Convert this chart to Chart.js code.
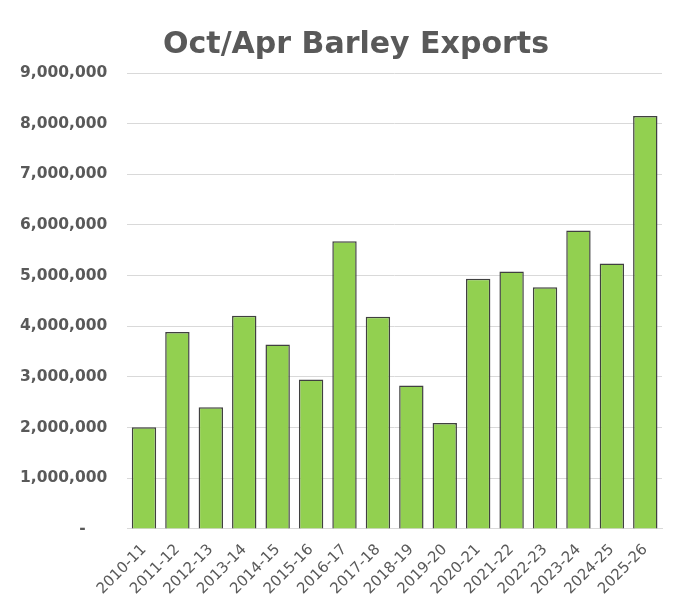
<!DOCTYPE html>
<html>
<head>
<meta charset="utf-8">
<script src="https://cdn.jsdelivr.net/npm/chart.js@4.4.1/dist/chart.umd.min.js"></script>
<style>
  html, body { margin: 0; padding: 0; background: #fff; }
  #wrap { width: 680px; height: 612px; }
</style>
</head>
<body>
<div id="wrap"><canvas id="myChart"></canvas></div>
<script>
"use strict";

const chartTitle = 'Oct/Apr Barley Exports';
const seasons = ['2010-11', '2011-12', '2012-13', '2013-14', '2014-15', '2015-16', '2016-17', '2017-18',
  '2018-19', '2019-20', '2020-21', '2021-22', '2022-23', '2023-24', '2024-25', '2025-26'];
const exportsTonnes = [2010000, 3890000, 2400000, 4210000, 3640000, 2950000, 5680000, 4190000,
  2830000, 2090000, 4940000, 5080000, 4770000, 5890000, 5240000, 8150000];
const yMax = 9000000;
const yStep = 1000000;

const textGrey = '#595959';

// title drawn by hand so it can sit a little right of canvas centre like the original
const titlePlugin = {
  id: 'sideTitle',
  afterDraw(chart) {
    const c = chart.ctx;
    c.save();
    c.font = 'bold 30px "DejaVu Sans"';
    c.fillStyle = textGrey;
    c.textAlign = 'center';
    c.textBaseline = 'alphabetic';
    c.fillText(chartTitle, 356, 53);
    c.restore();
  }
};

const ctx = document.getElementById('myChart');

new Chart(ctx, {
  type: 'bar',
  data: {
    labels: seasons,
    datasets: [{
      label: 'Exports',
      data: exportsTonnes,
      backgroundColor: '#92D050',
      borderColor: '#404040',
      borderWidth: 1.5,
      categoryPercentage: 1,
      barPercentage: 0.73
    }]
  },
  options: {
    responsive: true,
    maintainAspectRatio: false,
    animation: false,
    layout: {
      padding: { top: 73, right: 18, bottom: 10, left: 0 }
    },
    plugins: {
      legend: { display: false },
      title: { display: false },
      tooltip: { enabled: false }
    },
    scales: {
      x: {
        grid: { display: false },
        border: { color: '#d9d9d9', width: 1 },
        ticks: {
          color: textGrey,
          font: { family: '"DejaVu Sans"', size: 15 },
          maxRotation: 45,
          minRotation: 45,
          autoSkip: false,
          padding: 4
        }
      },
      y: {
        min: 0,
        max: yMax,
        grid: { color: '#d9d9d9', drawTicks: false },
        border: { display: false },
        ticks: {
          stepSize: yStep,
          color: textGrey,
          padding: 20,
          font: { family: '"DejaVu Sans"', size: 15.5, weight: 'bold' },
          callback: (v) => v === 0 ? '-    ' : v.toLocaleString('en-US')
        }
      }
    }
  },
  plugins: [titlePlugin]
});
</script>
</body>
</html>
